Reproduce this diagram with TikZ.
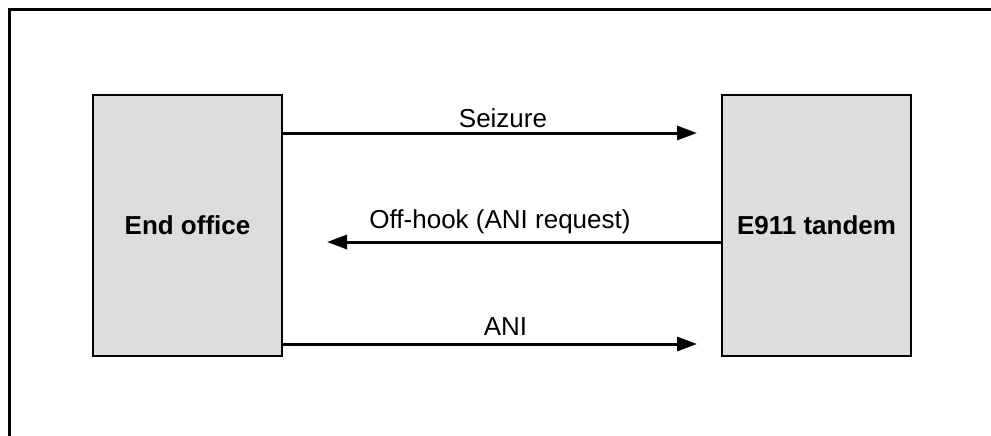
\documentclass[tikz,border=0pt]{standalone}
\usepackage{fontspec}
\setmainfont{Liberation Sans}
\usetikzlibrary{arrows.meta}
\definecolor{boxgray}{HTML}{DDDDDD}
\tikzset{
  frameline/.style={line width=3pt},
  unit/.style={draw=black, line width=1.5pt, fill=boxgray, inner sep=0pt,
    minimum width=189pt, minimum height=261pt,
    font=\fontsize{26}{31}\selectfont\bfseries},
  msg/.style={line width=3pt, -{Triangle[length=20pt,width=14pt]}},
  msglabel/.style={anchor=base, inner sep=0pt, font=\fontsize{26}{31}\selectfont}
}
\begin{document}
\begin{tikzpicture}[x=1pt,y=-1pt]
\useasboundingbox (0,0) rectangle (991,436);
\draw[frameline] (991,10) -- (9,10) -- (9,436);
\node[unit] (eo) at (187.5,225.5) {End office};
\node[unit] (et) at (816.5,225.5) {E911 tandem};
\coordinate (t1) at (697,133);
\coordinate (t2) at (327,242);
\coordinate (t3) at (697,344);
\draw[msg] (eo.east |- t1) -- (t1);
\draw[msg] (et.west |- t2) -- (t2);
\draw[msg] (eo.east |- t3) -- (t3);
\node[msglabel] (l1) at (503,127) {Seizure};
\node[msglabel] (l2) at (500,228) {Off-hook (ANI request)};
\node[msglabel] (l3) at (505.5,335) {ANI};
\end{tikzpicture}
\end{document}
